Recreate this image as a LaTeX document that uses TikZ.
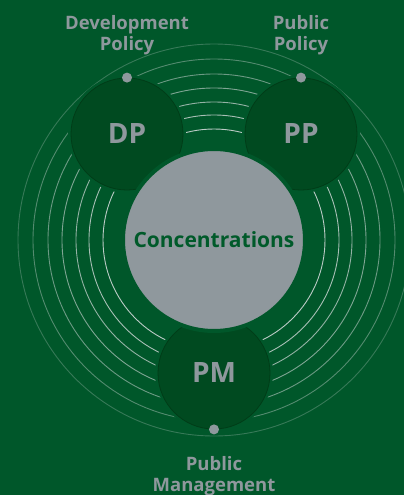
\documentclass[tikz,border=0pt]{standalone}
\usepackage{fontspec}
\setmainfont{Open Sans}
\definecolor{bg}{HTML}{00572A}
\definecolor{dk}{HTML}{004A20}
\definecolor{dkedge}{HTML}{003D18}
\definecolor{gr}{HTML}{8F989D}
\definecolor{txtgreen}{HTML}{005A2A}
\tikzset{
  small/.style={circle, minimum size=112pt, inner sep=0pt, fill=dk, draw=dkedge, line width=0.8pt,
     text=gr, font=\bfseries\fontsize{28}{30}\selectfont},
  halo/.style={circle, minimum size=112pt, inner sep=0pt, draw=bg, line width=6pt},
  big/.style={circle, minimum size=182pt, inner sep=0pt, fill=gr, draw=bg, line width=4pt,
     text=txtgreen, font=\bfseries\fontsize{21}{23}\selectfont},
  dot/.style={circle, minimum size=10pt, inner sep=0pt, fill=gr},
  lab/.style={align=center, text=gr, font=\bfseries\fontsize{18.5}{21}\selectfont, inner sep=0pt},
}
\begin{document}
\begin{tikzpicture}[x=1pt,y=-1pt]
\fill[bg] (0,0) rectangle (404,495);
\useasboundingbox (0,0) rectangle (404,495);
\coordinate (ctr) at (214,240);
% concentric rings
\foreach \r/\op in {111/0.85,125/0.76,138/0.67,152/0.58,166/0.49,181/0.38,196/0.25}{
  \draw[white!70!gr, opacity=\op, line width=0.9pt] (ctr) circle[radius=\r pt];
}
% halos
\node[halo] at (127,134) {};
\node[halo] at (301,134) {};
\node[halo] at (214,373) {};
% small circles
\node[small] (dp) at (127,134) {DP};
\node[small] (pp) at (301,134) {PP};
\node[small] (pm) at (214,373) {PM};
% big circle
\node[big] (conc) at (ctr) {Concentrations};
% dots
\node[dot] (dpdot) at (dp.north) {};
\node[dot] (ppdot) at (pp.north) {};
\node[dot] (pmdot) at (pm.south) {};
% labels
\node[lab] (dplab) at (127,35) {Development\\Policy};
\node[lab] (pplab) at (301,35) {Public\\Policy};
\node[lab] (pmlab) at (214,476) {Public\\Management};
\end{tikzpicture}
\end{document}
